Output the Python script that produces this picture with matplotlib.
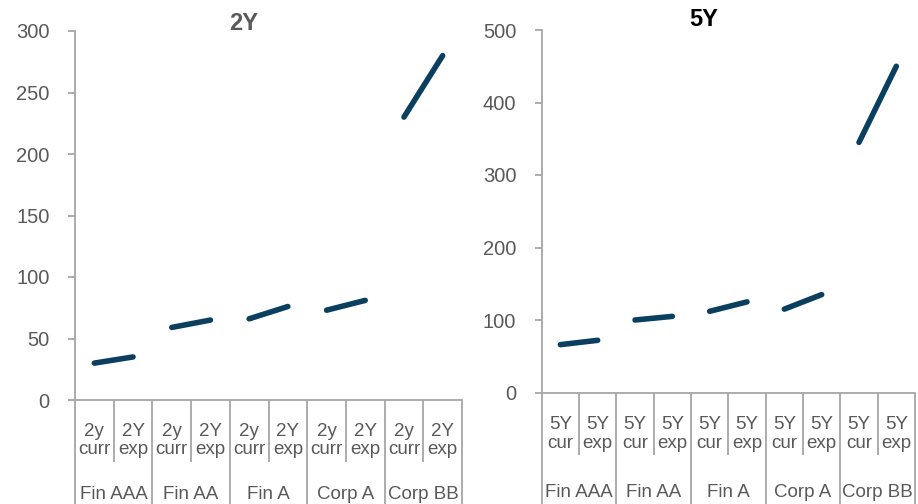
import matplotlib
matplotlib.use("Agg")
import matplotlib.pyplot as plt
from matplotlib.transforms import blended_transform_factory

plt.rcParams['font.family'] = ['Liberation Sans', 'DejaVu Sans']

categories = ['Fin AAA', 'Fin AA', 'Fin A', 'Corp A', 'Corp BB']
sub_2y = ['2y\ncurr', '2Y\nexp']
sub_5y = ['5Y\ncur', '5Y\nexp']
curr_2y = [30, 59, 66, 73, 230]
exp_2y = [35, 65, 76, 81, 280]
curr_5y = [66, 100, 112, 115, 345]
exp_5y = [72, 105, 125, 135, 450]
yticks_2y = [0, 50, 100, 150, 200, 250, 300]
yticks_5y = [0, 100, 200, 300, 400, 500]

W, H = 918, 504
LINE = '#0B3F5F'
AXC = '#A6A6A6'
TXT = '#595959'

fig = plt.figure(figsize=(W / 100, H / 100), dpi=100)


def make_panel(rect_px, curr, exp, subs, yticks, sub_y_px, grp_y_px, inner_px):
    l, r, t, b = rect_px
    ax = fig.add_axes([l / W, 1 - b / H, (r - l) / W, (b - t) / H])
    hpx = b - t
    for i in range(len(categories)):
        ax.plot([2 * i, 2 * i + 1], [curr[i], exp[i]], color=LINE, lw=4.0,
                solid_capstyle='round')
    ax.set_xlim(-0.5, 2 * len(categories) - 0.5)
    ax.set_ylim(yticks[0], yticks[-1])
    ax.set_yticks(yticks)
    ax.set_xticks([])
    for s in ['top', 'right']:
        ax.spines[s].set_visible(False)
    for s in ['left', 'bottom']:
        ax.spines[s].set_color(AXC)
        ax.spines[s].set_linewidth(1.3)
    ax.tick_params(axis='y', direction='out', length=4.8, width=1.3, color=AXC,
                   labelsize=14.5, labelcolor=TXT, pad=13.5)
    tr = blended_transform_factory(ax.transData, ax.transAxes)
    bottom_frac = -(H - b) / hpx
    for k in range(2 * len(categories) + 1):
        x = -0.5 + k
        y2 = bottom_frac if k % 2 == 0 else -inner_px / hpx
        ax.plot([x, x], [0, y2], transform=tr, color=AXC, lw=1.3,
                clip_on=False, solid_capstyle='butt')
    for i in range(len(categories)):
        for j in range(2):
            ax.text(2 * i + j, -sub_y_px / hpx, subs[j], transform=tr,
                    ha='center', va='center', fontsize=13.5, color=TXT,
                    linespacing=1.15)
        ax.text(2 * i + 0.5, -grp_y_px / hpx, categories[i], transform=tr,
                ha='center', va='center', fontsize=13.5, color=TXT)
    return ax


ax1 = make_panel((75, 462, 31, 400), curr_2y, exp_2y, sub_2y, yticks_2y,
                 40.5, 94.5, 62)
ax2 = make_panel((541.7, 915, 30, 392.5), curr_5y, exp_5y, sub_5y, yticks_5y,
                 41.5, 100, 62.5)

fig.text(244 / W, 1 - 24 / H, '2Y', ha='center', va='center', fontsize=17,
         fontweight='bold', color=TXT)
fig.text(704 / W, 1 - 20 / H, '5Y', ha='center', va='center', fontsize=17,
         fontweight='bold', color='black')

fig.savefig('out.png', dpi=100)
